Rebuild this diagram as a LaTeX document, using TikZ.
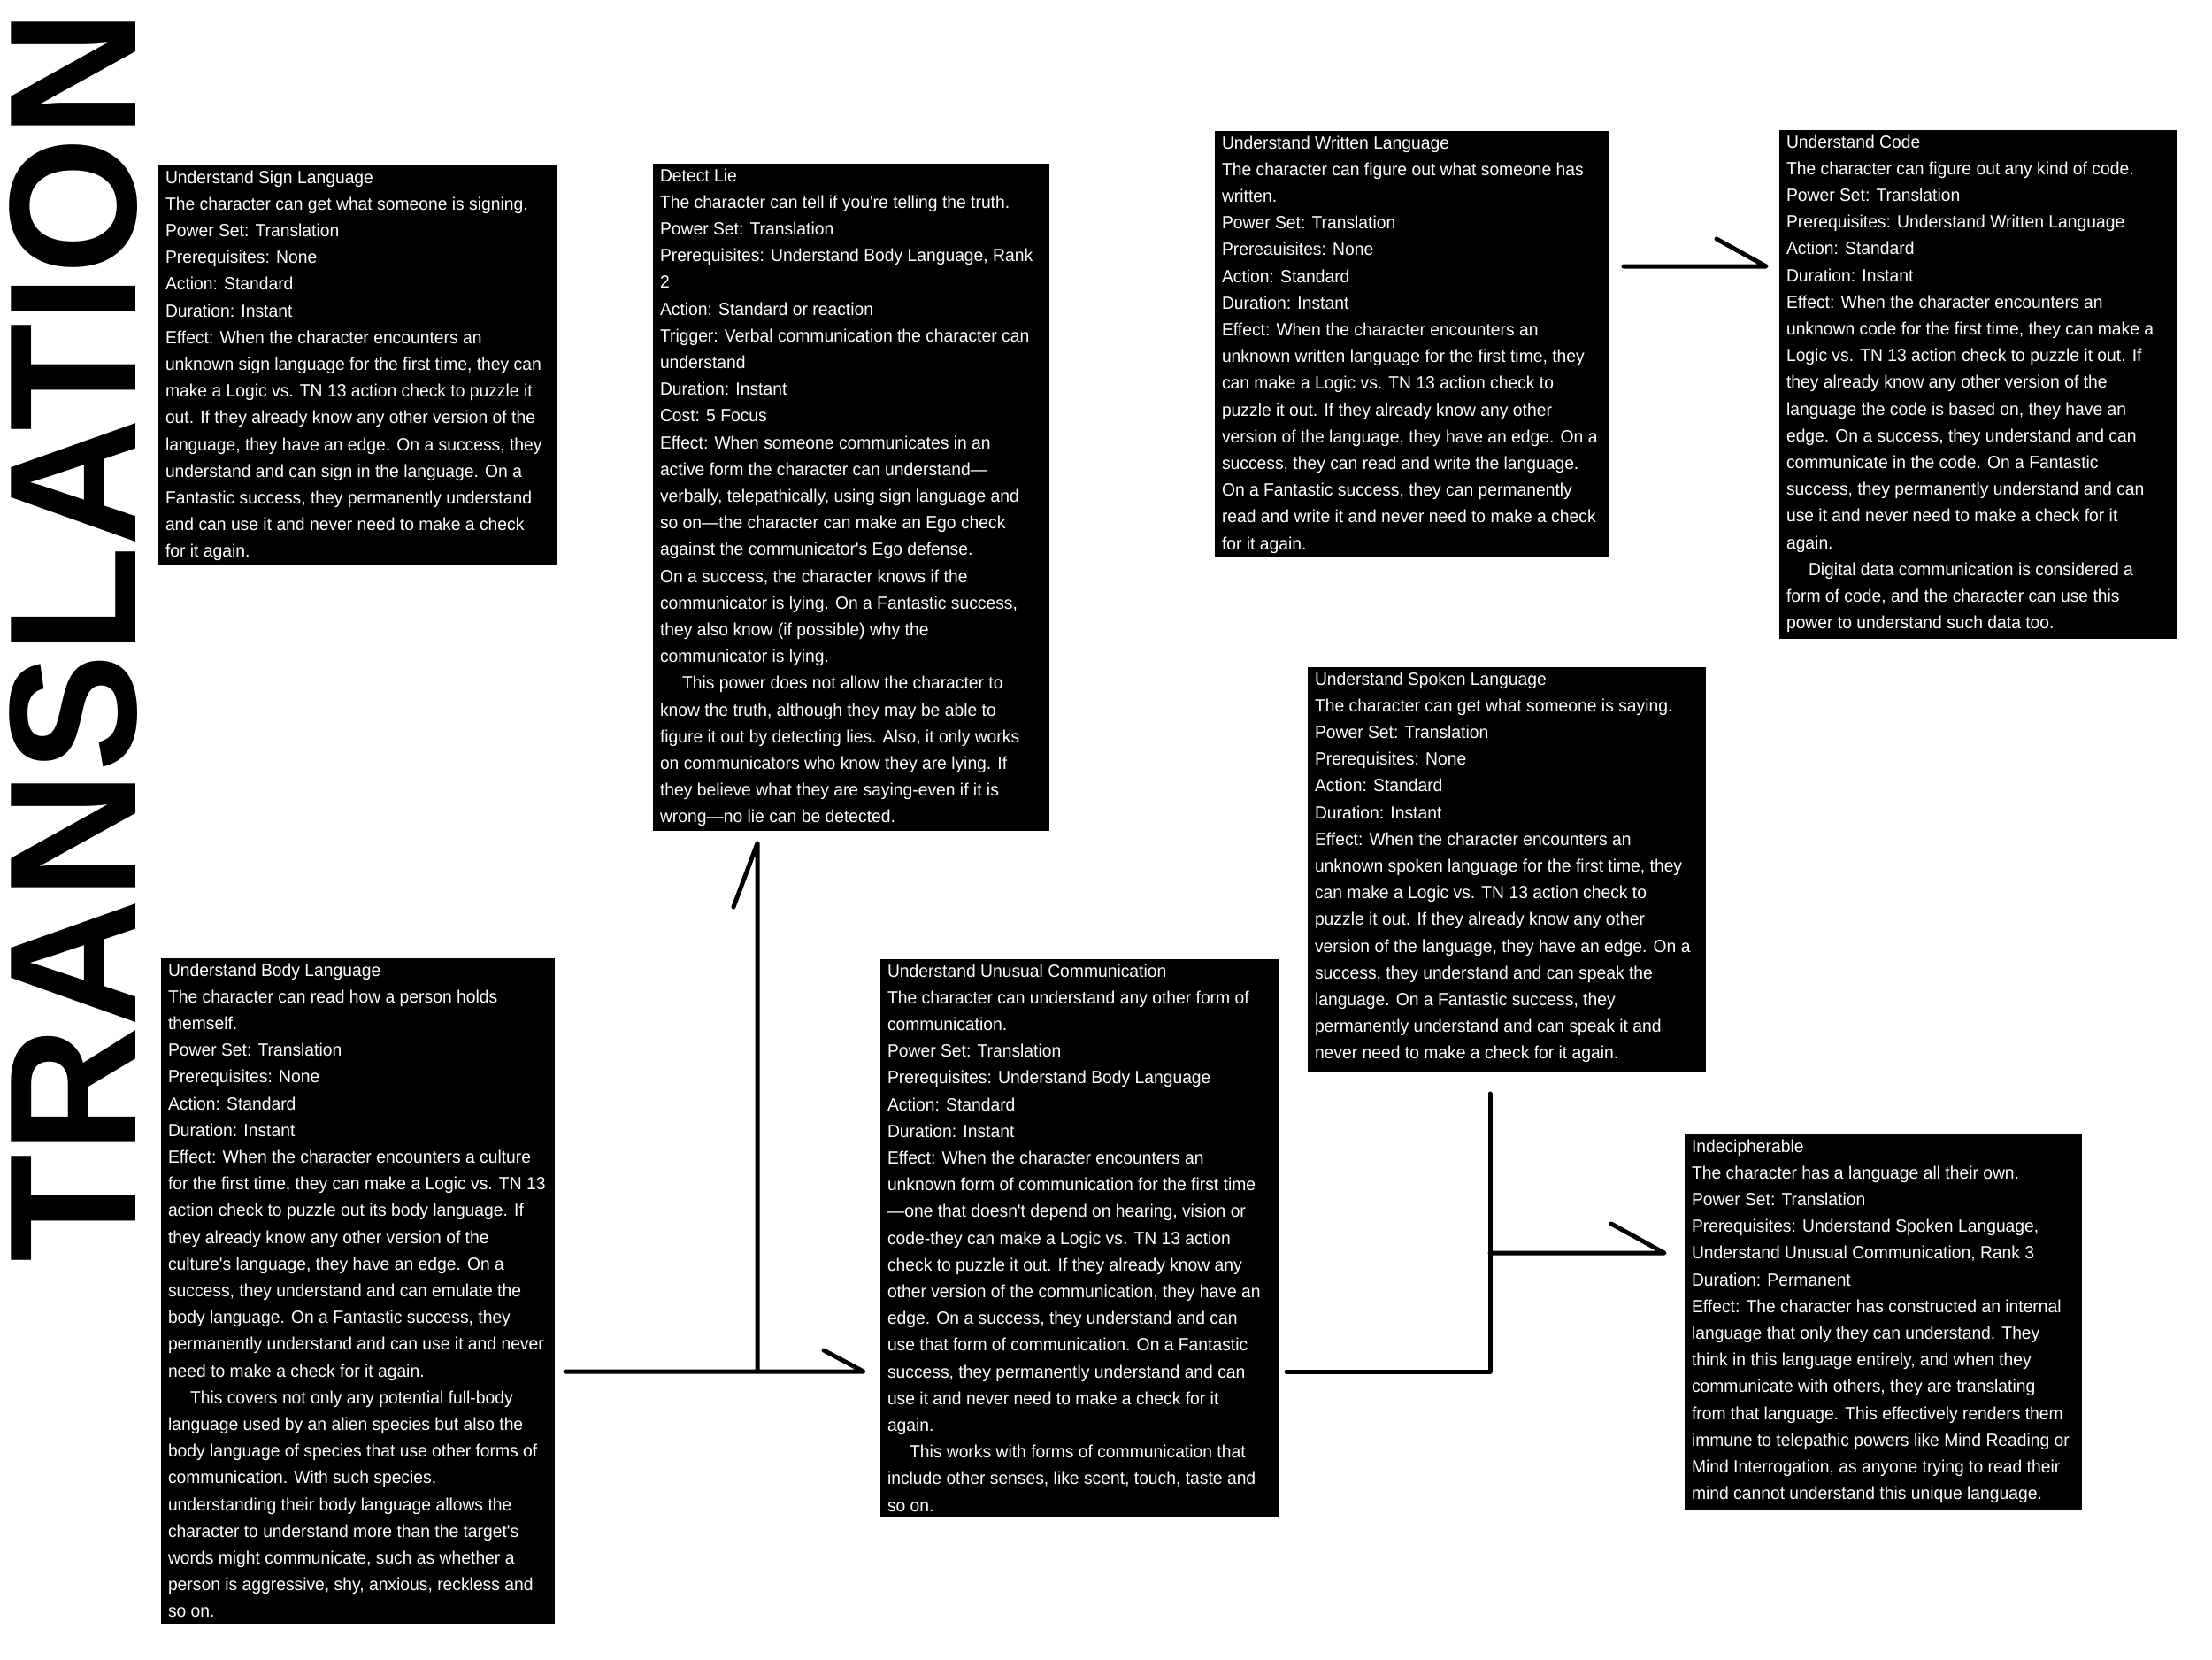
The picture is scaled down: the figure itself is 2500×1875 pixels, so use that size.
\documentclass[tikz,border=0pt]{standalone}
\usepackage{fontspec}
\newfontfamily\boxfont{Liberation Sans}
\newfontfamily\narrowfont{Liberation Sans}[FakeStretch=0.965]
\usetikzlibrary{fit}
\tikzset{
  pbox/.style={fill=black, inner sep=0pt, draw=none},
  ptext/.style={anchor=north west, inner sep=0pt, text=white, align=left,
    font=\narrowfont\fontsize{8pt}{12.08pt}\selectfont},
  conn/.style={draw=black, line width=2pt, line cap=round, line join=round},
  titletext/.style={rotate=90, anchor=base west, inner sep=0pt,
    font=\boxfont\bfseries\fontsize{81.8pt}{81.8pt}\selectfont},
}
\newcommand\pwrbox[6]{%
  \node[pbox, fit={(#2,#3) (#4,#5)}] (#1) {};
  \begin{scope}
    \clip (#1.north west) rectangle (#1.south east);
    \node[ptext] (#1-text) at ([xshift=3.2pt]#1.north west) {\rule{0pt}{8pt}#6};
  \end{scope}}
\newcommand\ind{\hspace*{10pt}}
\begin{document}
\begin{tikzpicture}[x=0.4pt, y=-0.4pt]
\fill[white] (0,0) rectangle (2500,1875);
\useasboundingbox (0,0) rectangle (2500,1875);

\node[titletext] (title) at (153,1427) {\scalebox{0.976}[1]{TRANSLATION}};

\pwrbox{sign}{179}{187}{630}{638}{Understand Sign Language\\
The character can get what someone is signing.\\
Power Set: Translation\\
Prerequisites: None\\
Action: Standard\\
Duration: Instant\\
Effect: When the character encounters an\\
unknown sign language for the first time, they can\\
make a Logic vs. TN 13 action check to puzzle it\\
out. If they already know any other version of the\\
language, they have an edge. On a success, they\\
understand and can sign in the language. On a\\
Fantastic success, they permanently understand\\
and can use it and never need to make a check\\
for it again.}

\pwrbox{lie}{738}{185}{1186}{939}{Detect Lie\\
The character can tell if you're telling the truth.\\
Power Set: Translation\\
Prerequisites: Understand Body Language, Rank\\
2\\
Action: Standard or reaction\\
Trigger: Verbal communication the character can\\
understand\\
Duration: Instant\\
Cost: 5 Focus\\
Effect: When someone communicates in an\\
active form the character can understand—\\
verbally, telepathically, using sign language and\\
so on—the character can make an Ego check\\
against the communicator's Ego defense.\\
On a success, the character knows if the\\
communicator is lying. On a Fantastic success,\\
they also know (if possible) why the\\
communicator is lying.\\
\ind This power does not allow the character to\\
know the truth, although they may be able to\\
figure it out by detecting lies. Also, it only works\\
on communicators who know they are lying. If\\
they believe what they are saying-even if it is\\
wrong—no lie can be detected.}

\pwrbox{written}{1373}{148}{1819}{630}{Understand Written Language\\
The character can figure out what someone has\\
written.\\
Power Set: Translation\\
Prereauisites: None\\
Action: Standard\\
Duration: Instant\\
Effect: When the character encounters an\\
unknown written language for the first time, they\\
can make a Logic vs. TN 13 action check to\\
puzzle it out. If they already know any other\\
version of the language, they have an edge. On a\\
success, they can read and write the language.\\
On a Fantastic success, they can permanently\\
read and write it and never need to make a check\\
for it again.}

\pwrbox{code}{2011}{147}{2460}{722}{Understand Code\\
The character can figure out any kind of code.\\
Power Set: Translation\\
Prerequisites: Understand Written Language\\
Action: Standard\\
Duration: Instant\\
Effect: When the character encounters an\\
unknown code for the first time, they can make a\\
Logic vs. TN 13 action check to puzzle it out. If\\
they already know any other version of the\\
language the code is based on, they have an\\
edge. On a success, they understand and can\\
communicate in the code. On a Fantastic\\
success, they permanently understand and can\\
use it and never need to make a check for it\\
again.\\
\ind Digital data communication is considered a\\
form of code, and the character can use this\\
power to understand such data too.}

\pwrbox{body}{182}{1083}{627}{1835}{Understand Body Language\\
The character can read how a person holds\\
themself.\\
Power Set: Translation\\
Prerequisites: None\\
Action: Standard\\
Duration: Instant\\
Effect: When the character encounters a culture\\
for the first time, they can make a Logic vs. TN 13\\
action check to puzzle out its body language. If\\
they already know any other version of the\\
culture's language, they have an edge. On a\\
success, they understand and can emulate the\\
body language. On a Fantastic success, they\\
permanently understand and can use it and never\\
need to make a check for it again.\\
\ind This covers not only any potential full-body\\
language used by an alien species but also the\\
body language of species that use other forms of\\
communication. With such species,\\
understanding their body language allows the\\
character to understand more than the target's\\
words might communicate, such as whether a\\
person is aggressive, shy, anxious, reckless and\\
so on.}

\pwrbox{unusual}{995}{1084}{1445}{1714}{Understand Unusual Communication\\
The character can understand any other form of\\
communication.\\
Power Set: Translation\\
Prerequisites: Understand Body Language\\
Action: Standard\\
Duration: Instant\\
Effect: When the character encounters an\\
unknown form of communication for the first time\\
—one that doesn't depend on hearing, vision or\\
code-they can make a Logic vs. TN 13 action\\
check to puzzle it out. If they already know any\\
other version of the communication, they have an\\
edge. On a success, they understand and can\\
use that form of communication. On a Fantastic\\
success, they permanently understand and can\\
use it and never need to make a check for it\\
again.\\
\ind This works with forms of communication that\\
include other senses, like scent, touch, taste and\\
so on.}

\pwrbox{spoken}{1478}{754}{1928}{1212}{Understand Spoken Language\\
The character can get what someone is saying.\\
Power Set: Translation\\
Prerequisites: None\\
Action: Standard\\
Duration: Instant\\
Effect: When the character encounters an\\
unknown spoken language for the first time, they\\
can make a Logic vs. TN 13 action check to\\
puzzle it out. If they already know any other\\
version of the language, they have an edge. On a\\
success, they understand and can speak the\\
language. On a Fantastic success, they\\
permanently understand and can speak it and\\
never need to make a check for it again.}

\pwrbox{indec}{1904}{1282}{2353}{1706}{Indecipherable\\
The character has a language all their own.\\
Power Set: Translation\\
Prerequisites: Understand Spoken Language,\\
Understand Unusual Communication, Rank 3\\
Duration: Permanent\\
Effect: The character has constructed an internal\\
language that only they can understand. They\\
think in this language entirely, and when they\\
communicate with others, they are translating\\
from that language. This effectively renders them\\
immune to telepathic powers like Mind Reading or\\
Mind Interrogation, as anyone trying to read their\\
mind cannot understand this unique language.}

% connector end points
\coordinate (a1s) at (639,1550);
\coordinate (a1e) at (976,1550);
\coordinate (j1)  at (856,1550);
\coordinate (a2e) at (856,953);
\coordinate (a3s) at (1454,1550);
\coordinate (j2)  at (1684,1550);
\coordinate (a3t) at (1684,1236);
\coordinate (j3)  at (1684,1416);
\coordinate (a3e) at (1881,1416);
\coordinate (a4s) at (1835,301);
\coordinate (a4e) at (1996,301);

% Body Language -> Unusual Communication
\draw[conn] (a1s) -- (a1e) -- ++(-45,-24);
% Body Language -> Detect Lie
\draw[conn] (j1) -- (a2e) -- ++(-27,72);
% Unusual Communication / Spoken Language -> Indecipherable
\draw[conn] (a3s) -- (j2) -- (a3t);
\draw[conn] (j3) -- (a3e) -- ++(-60,-33);
% Written Language -> Code
\draw[conn] (a4s) -- (a4e) -- ++(-56,-31);
\end{tikzpicture}
\end{document}
